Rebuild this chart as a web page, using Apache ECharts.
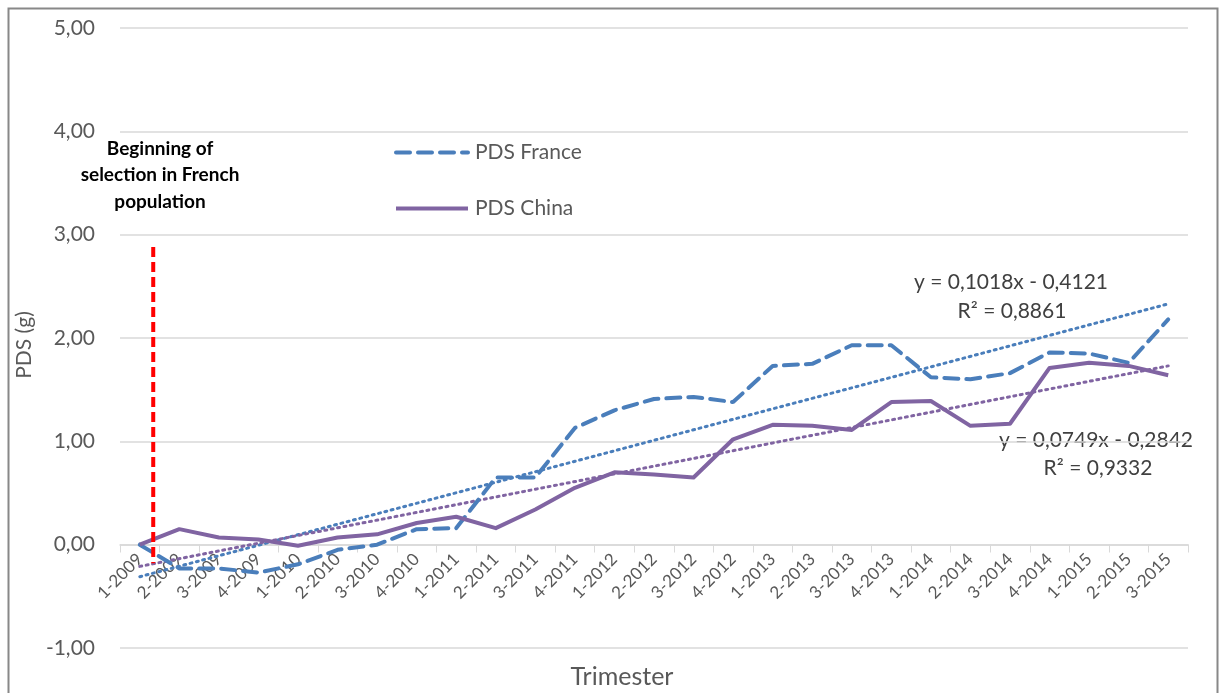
<!DOCTYPE html>
<html>
<head>
<meta charset="utf-8">
<script src="https://cdn.jsdelivr.net/npm/echarts@6/dist/echarts.min.js"></script>
<style>html,body{margin:0;padding:0;background:#fff;}#c{width:1219px;height:693px;}</style>
</head>
<body>
<div id="c"></div>
<script>
var categories = ['1-2009','2-2009','3-2009','4-2009','1-2010','2-2010','3-2010','4-2010','1-2011','2-2011','3-2011','4-2011','1-2012','2-2012','3-2012','4-2012','1-2013','2-2013','3-2013','4-2013','1-2014','2-2014','3-2014','4-2014','1-2015','2-2015','3-2015'];
var pdsFrance = [0, -0.23, -0.23, -0.27, -0.19, -0.05, 0.0, 0.15, 0.16, 0.65, 0.65, 1.13, 1.30, 1.41, 1.43, 1.38, 1.73, 1.75, 1.93, 1.93, 1.62, 1.60, 1.66, 1.86, 1.85, 1.76, 2.18];
var pdsChina = [0, 0.15, 0.07, 0.05, -0.01, 0.07, 0.10, 0.21, 0.27, 0.16, 0.34, 0.55, 0.70, 0.68, 0.65, 1.02, 1.16, 1.15, 1.11, 1.38, 1.39, 1.15, 1.17, 1.71, 1.76, 1.73, 1.64];
// trendline endpoints (first and last trimester)
var trendFranceEnds = [-0.31, 2.33];
var trendChinaEnds = [-0.21, 1.73];
// red marker line: x position (in category units) and y extent
var markerX = 0.34;
var markerY = [2.88, -0.18];

function ends(arr) {
  var d = categories.map(function(){ return null; });
  d[0] = arr[0]; d[d.length - 1] = arr[1];
  return d;
}

var chart = echarts.init(document.getElementById('c'), null, {renderer: 'canvas'});
var font = 'Lato, "Open Sans", sans-serif';
var txt = '#595959';
chart.setOption({
  animation: false,
  backgroundColor: '#fff',
  grid: {left: 120, right: 31, top: 28, bottom: 45, containLabel: false, outerBoundsMode: 'none'},
  legend: {
    data: ['PDS France', 'PDS China'],
    orient: 'vertical',
    left: 389, top: 137,
    itemWidth: 72, itemHeight: 20, itemGap: 35,
    itemStyle: {opacity: 0},
    lineStyle: {width: 4},
    textStyle: {fontFamily: font, fontSize: 21, color: txt, padding: [0, 0, 0, 2]}
  },
  xAxis: [{
    type: 'category',
    data: categories,
    boundaryGap: true,
    offset: -103.5,
    axisLine: {onZero: false, lineStyle: {color: '#d9d9d9', width: 1.5}},
    axisTick: {show: true, length: 8, lineStyle: {color: '#d9d9d9'}, alignWithLabel: false},
    axisLabel: {rotate: 45, interval: 0, fontFamily: font, fontSize: 17, color: txt, margin: 12}
  }, {
    type: 'value', min: -0.5, max: 26.5, show: false
  }],
  yAxis: {
    type: 'value', min: -1, max: 5, interval: 1,
    axisLine: {show: false}, axisTick: {show: false},
    splitLine: {lineStyle: {color: '#d9d9d9', width: 1.5}},
    axisLabel: {fontFamily: font, fontSize: 21, color: txt, margin: 25,
      formatter: function(v){ return v.toFixed(2).replace('.', ','); }},
    name: 'PDS (g)', nameLocation: 'middle', nameGap: 81, nameRotate: 90,
    nameTextStyle: {fontFamily: font, fontSize: 21, color: txt, padding: [0, 14, 0, 0]}
  },
  series: [
    {name: 'Trend France', type: 'line', data: ends(trendFranceEnds), connectNulls: true, symbol: 'none', silent: true,
      lineStyle: {color: '#4a7ebb', width: 3, type: [2, 4.5], cap: 'round'}, z: 2},
    {name: 'Trend China', type: 'line', data: ends(trendChinaEnds), connectNulls: true, symbol: 'none', silent: true,
      lineStyle: {color: '#8064a2', width: 3, type: [2, 4.5], cap: 'round'}, z: 2},
    {name: 'PDS France', type: 'line', data: pdsFrance, symbol: 'none',
      itemStyle: {color: '#4a7ebb'},
      lineStyle: {color: '#4a7ebb', width: 4, type: [14, 8], cap: 'round'}, z: 3},
    {name: 'PDS China', type: 'line', data: pdsChina, symbol: 'none',
      itemStyle: {color: '#8064a2'},
      lineStyle: {color: '#8064a2', width: 4, join: 'round'}, z: 3},
    {name: 'Marker', type: 'line', xAxisIndex: 1, data: [[markerX, markerY[0]], [markerX, markerY[1]]], symbol: 'none', silent: true,
      lineStyle: {color: '#ff0000', width: 4, type: [10, 5]}, z: 4}
  ],
  graphic: [
    {type: 'rect', left: 6, top: 6, shape: {width: 1209, height: 700}, style: {fill: 'none', stroke: '#888', lineWidth: 2}, silent: true},
    {type: 'text', x: 622, y: 677, style: {text: 'Trimester', fontFamily: font, fontSize: 25, fill: txt, align: 'center', verticalAlign: 'middle'}},
    {type: 'text', x: 160, y: 175, style: {text: 'Beginning of\nselection in French\npopulation', fontFamily: font, fontSize: 19, fontWeight: 'bold', fill: '#000', align: 'center', verticalAlign: 'middle', lineHeight: 26.5}},
    {type: 'text', x: 1011, y: 282, style: {text: 'y = 0,1018x - 0,4121', fontFamily: font, fontSize: 21, fill: '#404040', align: 'center', verticalAlign: 'middle'}},
    {type: 'text', x: 1012, y: 311, style: {text: 'R² = 0,8861', fontFamily: font, fontSize: 21, fill: '#404040', align: 'center', verticalAlign: 'middle'}},
    {type: 'text', x: 1096, y: 440, style: {text: 'y = 0,0749x - 0,2842', fontFamily: font, fontSize: 21, fill: '#404040', align: 'center', verticalAlign: 'middle'}},
    {type: 'text', x: 1098, y: 468, style: {text: 'R² = 0,9332', fontFamily: font, fontSize: 21, fill: '#404040', align: 'center', verticalAlign: 'middle'}}
  ]
});
</script>
</body>
</html>
